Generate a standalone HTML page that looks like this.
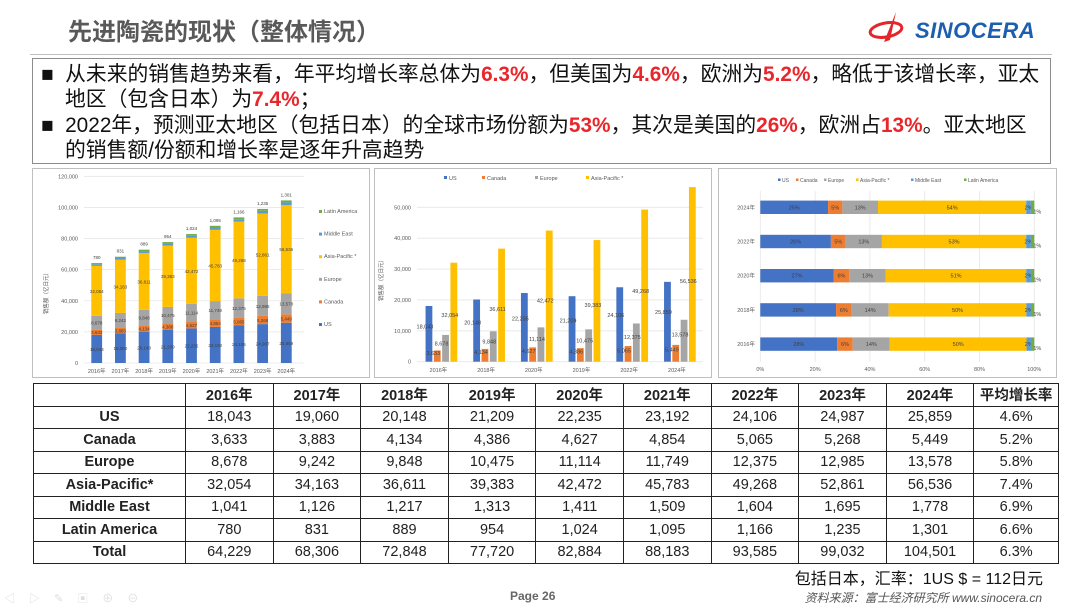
<!DOCTYPE html>
<html><head><meta charset="utf-8">
<style>
*{margin:0;padding:0;box-sizing:border-box}
body{width:1080px;height:608px;background:#fff;position:relative;overflow:hidden;font-family:"Liberation Sans","Noto Sans CJK SC",sans-serif}
.abs{position:absolute}
#title{left:68px;top:12px;font-size:24px;font-weight:bold;color:#595959;font-family:"Liberation Sans","Noto Sans CJK SC",sans-serif}
#hline{left:30px;top:54px;width:1022px;height:1px;background:#bfbfbf}
#logo-text{left:915px;top:18px;font-size:22px;font-weight:bold;font-style:italic;color:#1d5fae;letter-spacing:0.5px}
#bullets{left:32px;top:58px;width:1019px;height:106px;border:1px solid #8c8c8c}
.bl{position:absolute;left:8px;font-size:20.8px;color:#111;white-space:nowrap;line-height:24px}
.bl b{color:#e8262b}
.panel{border:1px solid #bfbfbf;background:#fff}
table{border-collapse:collapse;table-layout:fixed;font-size:14.5px;font-family:"Liberation Sans","Noto Sans CJK SC",sans-serif}
td{border:1px solid #222;text-align:center;height:22.5px;padding:0;color:#222}
tr:first-child td{font-weight:bold}
td:first-child{font-weight:bold}
svg text{font-family:"Liberation Sans","Noto Sans CJK SC",sans-serif}
</style></head><body>
<div id="title" class="abs">先进陶瓷的现状（整体情况）</div>
<div id="hline" class="abs"></div>
<svg class="abs" style="left:866px;top:10px" width="46" height="34">
<ellipse cx="20" cy="20" rx="16" ry="7" fill="none" stroke="#e3262b" stroke-width="3" transform="rotate(-10 20 20)"/>
<path d="M30 2 L18 32 L24 30 Z" fill="#e3262b"/>
</svg>
<div id="logo-text" class="abs">SINOCERA</div>

<div id="bullets" class="abs">
<div class="bl" style="top:4px">■&nbsp; 从未来的销售趋势来看，年平均增长率总体为<b>6.3%</b>，但美国为<b>4.6%</b>，欧洲为<b>5.2%</b>，略低于该增长率，亚太</div>
<div class="bl" style="top:29px;left:32px">地区（包含日本）为<b>7.4%</b>；</div>
<div class="bl" style="top:55px">■&nbsp; 2022年，预测亚太地区（包括日本）的全球市场份额为<b>53%</b>，其次是美国的<b>26%</b>，欧洲占<b>13%</b>。亚太地区</div>
<div class="bl" style="top:80px;left:32px">的销售额/份额和增长率是逐年升高趋势</div>
</div>

<svg id="c1" class="abs panel" style="left:32px;top:168px" width="338" height="210"></svg>
<svg id="c2" class="abs panel" style="left:374px;top:168px" width="338" height="210"></svg>
<svg id="c3" class="abs panel" style="left:718px;top:168px" width="339" height="210"></svg>

<table class="abs" style="left:33px;top:383px;width:1025px">
<colgroup><col style="width:152px"><col span="9" style="width:87.6px"><col style="width:84.6px"></colgroup>
<tr><td></td><td>2016年</td><td>2017年</td><td>2018年</td><td>2019年</td><td>2020年</td><td>2021年</td><td>2022年</td><td>2023年</td><td>2024年</td><td>平均增长率</td></tr>
<tr><td>US</td><td>18,043</td><td>19,060</td><td>20,148</td><td>21,209</td><td>22,235</td><td>23,192</td><td>24,106</td><td>24,987</td><td>25,859</td><td>4.6%</td></tr>
<tr><td>Canada</td><td>3,633</td><td>3,883</td><td>4,134</td><td>4,386</td><td>4,627</td><td>4,854</td><td>5,065</td><td>5,268</td><td>5,449</td><td>5.2%</td></tr>
<tr><td>Europe</td><td>8,678</td><td>9,242</td><td>9,848</td><td>10,475</td><td>11,114</td><td>11,749</td><td>12,375</td><td>12,985</td><td>13,578</td><td>5.8%</td></tr>
<tr><td>Asia-Pacific*</td><td>32,054</td><td>34,163</td><td>36,611</td><td>39,383</td><td>42,472</td><td>45,783</td><td>49,268</td><td>52,861</td><td>56,536</td><td>7.4%</td></tr>
<tr><td>Middle East</td><td>1,041</td><td>1,126</td><td>1,217</td><td>1,313</td><td>1,411</td><td>1,509</td><td>1,604</td><td>1,695</td><td>1,778</td><td>6.9%</td></tr>
<tr><td>Latin America</td><td>780</td><td>831</td><td>889</td><td>954</td><td>1,024</td><td>1,095</td><td>1,166</td><td>1,235</td><td>1,301</td><td>6.6%</td></tr>
<tr><td>Total</td><td>64,229</td><td>68,306</td><td>72,848</td><td>77,720</td><td>82,884</td><td>88,183</td><td>93,585</td><td>99,032</td><td>104,501</td><td>6.3%</td></tr>
</table>

<div class="abs" style="right:37px;top:565px;font-size:16px;color:#111">包括日本，汇率：1US $ = 112日元</div>
<div class="abs" style="left:510px;top:589px;font-size:12px;color:#666;font-weight:bold">Page 26</div>
<div class="abs" style="right:38px;top:589px;font-size:12px;color:#555;font-style:italic">资料来源：富士经济研究所 www.sinocera.cn</div>
<div class="abs" style="left:4px;top:590px;font-size:11px;color:#ddd;letter-spacing:14px">◁▷✎▣⊕⊖</div>

<script>
const years = ["2016年","2017年","2018年","2019年","2020年","2021年","2022年","2023年","2024年"];
const seriesNames = ["US","Canada","Europe","Asia-Pacific *","Middle East","Latin America"];
const usVals = [18043,19060,20148,21209,22235,23192,24106,24987,25859];
const canadaVals = [3633,3883,4134,4386,4627,4854,5065,5268,5449];
const europeVals = [8678,9242,9848,10475,11114,11749,12375,12985,13578];
const asiaVals = [32054,34163,36611,39383,42472,45783,49268,52861,56536];
const meVals = [1041,1126,1217,1313,1411,1509,1604,1695,1778];
const laVals = [780,831,889,954,1024,1095,1166,1235,1301];
const yTicks1 = [0,20000,40000,60000,80000,100000,120000];
const c2Cats = ["2016年","2018年","2020年","2019年","2022年","2024年"];
const c2Idx = [0,2,4,3,6,8];
const yTicks2 = [0,10000,20000,30000,40000,50000];
const c3Cats = ["2024年","2022年","2020年","2018年","2016年"];
const c3Idx = [8,6,4,2,0];
const xTicks3 = [0,20,40,60,80,100];
const colors = ["#4472c4","#ed7d31","#a5a5a5","#ffc000","#5b9bd5","#70ad47"];
const allSeries = [usVals,canadaVals,europeVals,asiaVals,meVals,laVals];
const NS="http://www.w3.org/2000/svg";
function mk(tag,attrs,parent){const e=document.createElementNS(NS,tag);for(const k in attrs)e.setAttribute(k,attrs[k]);parent.appendChild(e);return e;}
function fmt(v){return v.toLocaleString("en-US");}

// Chart 1 stacked
(function(){
const s=document.getElementById("c1");
const y0=194, yTop=7.3, ymax=120000;
const y=v=>y0-(v/ymax)*(y0-yTop);
const x=i=>63.7+i*23.7;
yTicks1.forEach(t=>{
 const g=mk("line",{x1:51,x2:271,y1:y(t),y2:y(t),stroke:"#e6e6e6","stroke-width":0.8},s);
 
 
 const l=mk("text",{x:45,y:y(t)+2,"font-size":5.5,fill:"#595959","text-anchor":"end"},s);l.textContent=fmt(t);
 
 
});
years.forEach((yr,i)=>{
 let acc=0;
 allSeries.forEach((arr,k)=>{
  const v=arr[i];
  const r=mk("rect",{x:x(i)-5.4,width:10.8,y:y(acc+v),height:y(acc)-y(acc+v),fill:colors[k]},s);
  
  
  if(k<4){const t=mk("text",{x:x(i),y:(y(acc)+y(acc+v))/2+2,"font-size":4.5,fill:"#404040","text-anchor":"middle"},s);t.textContent=fmt(v);
   
   }
  acc+=v;
  if(k===5){const t=mk("text",{x:x(i),y:y(acc)-4,"font-size":4.5,fill:"#404040","text-anchor":"middle"},s);t.textContent=fmt(v);
   
   }
 });
 const xl=mk("text",{x:x(i),y:204,"font-size":5.5,fill:"#595959","text-anchor":"middle"},s);xl.textContent=yr;
 
 
});
const yt=mk("text",{x:0,y:0,"font-size":5.5,fill:"#595959","text-anchor":"middle",transform:"translate(15,123) rotate(-90)"},s);yt.textContent="销售额（亿日元）";


[5,4,3,2,1,0].forEach((k,j)=>{
 const ly=44+j*22.6;
 const m=mk("rect",{x:286,y:ly-3,width:3,height:3,fill:colors[k]},s);
 
 
 const t=mk("text",{x:291,y:ly,"font-size":5.5,fill:"#595959"},s);t.textContent=seriesNames[k];
 
 
});
})();

// Chart 2 grouped
(function(){
const s=document.getElementById("c2");
const y0=192.7, ymax=50000, y50=38.3;
const y=v=>y0-(v/ymax)*(y0-y50);
const cx=i=>66.4+i*47.7;
yTicks2.forEach(t=>{
 const g=mk("line",{x1:42,x2:328,y1:y(t),y2:y(t),stroke:"#e6e6e6","stroke-width":0.8},s);
 
 
 const l=mk("text",{x:36,y:y(t)+2,"font-size":5.5,fill:"#595959","text-anchor":"end"},s);l.textContent=fmt(t);
 
 
});
c2Cats.forEach((c,i)=>{
 const di=c2Idx[i];
 for(let k=0;k<4;k++){
  const v=allSeries[k][di];
  const bx=cx(i)+(k-1.5)*8.3;
  const r=mk("rect",{x:bx-3.4,width:6.8,y:y(v),height:y0-y(v),fill:colors[k]},s);
  
  
  const t=mk("text",{x:bx-4,y:k===3?y(v*0.45):y(v*0.6),"font-size":5.5,fill:"#404040","text-anchor":"middle"},s);t.textContent=fmt(v);
  
  
 }
 const xl=mk("text",{x:cx(i)-3,y:203,"font-size":5.5,fill:"#595959","text-anchor":"middle"},s);xl.textContent=c;
 
 
});
const yt=mk("text",{x:0,y:0,"font-size":5.5,fill:"#595959","text-anchor":"middle",transform:"translate(8,110) rotate(-90)"},s);yt.textContent="销售额（亿日元）";


const lx=[74,112,165,216];
for(let k=0;k<4;k++){
 const m=mk("rect",{x:lx[k]-5,y:7,width:3,height:3,fill:colors[k]},s);
 
 
 const t=mk("text",{x:lx[k],y:11,"font-size":5.5,fill:"#595959"},s);t.textContent=seriesNames[k];
 
 
}
})();

// Chart 3 100% horizontal
(function(){
const s=document.getElementById("c3");
const x0=41.3, x1=315.3;
const x=p=>x0+p/100*(x1-x0);
const cy=i=>38.3+i*34.2;
xTicks3.forEach(t=>{
 const g=mk("line",{x1:x(t),x2:x(t),y1:22,y2:193,stroke:"#e6e6e6","stroke-width":0.8},s);
 
 
 const l=mk("text",{x:x(t),y:202,"font-size":5.5,fill:"#595959","text-anchor":"middle"},s);l.textContent=t+"%";
 
 
});
c3Cats.forEach((c,i)=>{
 const di=c3Idx[i];
 let tot=0;allSeries.forEach(a=>tot+=a[di]);
 let acc=0;
 allSeries.forEach((arr,k)=>{
  const p=arr[di]/tot*100;
  const r=mk("rect",{x:x(acc),width:x(acc+p)-x(acc),y:cy(i)-6.7,height:13.4,fill:colors[k]},s);
  
  
  const t=mk("text",{x:k===5?x(acc+p)+3:x(acc+p/2),y:k===5?cy(i)+6:cy(i)+2,"font-size":5.5,fill:"#404040","text-anchor":"middle"},s);t.textContent=Math.round(p)+"%";
  
  
  acc+=p;
 });
 const yl=mk("text",{x:36,y:cy(i)+2,"font-size":5.5,fill:"#595959","text-anchor":"end"},s);yl.textContent=c;
 
 
});
const lx=[63,81,109,141,196,249];
for(let k=0;k<6;k++){
 const m=mk("rect",{x:lx[k]-4,y:9.5,width:2.5,height:2.5,fill:colors[k]},s);
 
 
 const t=mk("text",{x:lx[k],y:13,"font-size":5,fill:"#595959"},s);t.textContent=seriesNames[k];
 
 
}
})();
</script>
</body></html>
